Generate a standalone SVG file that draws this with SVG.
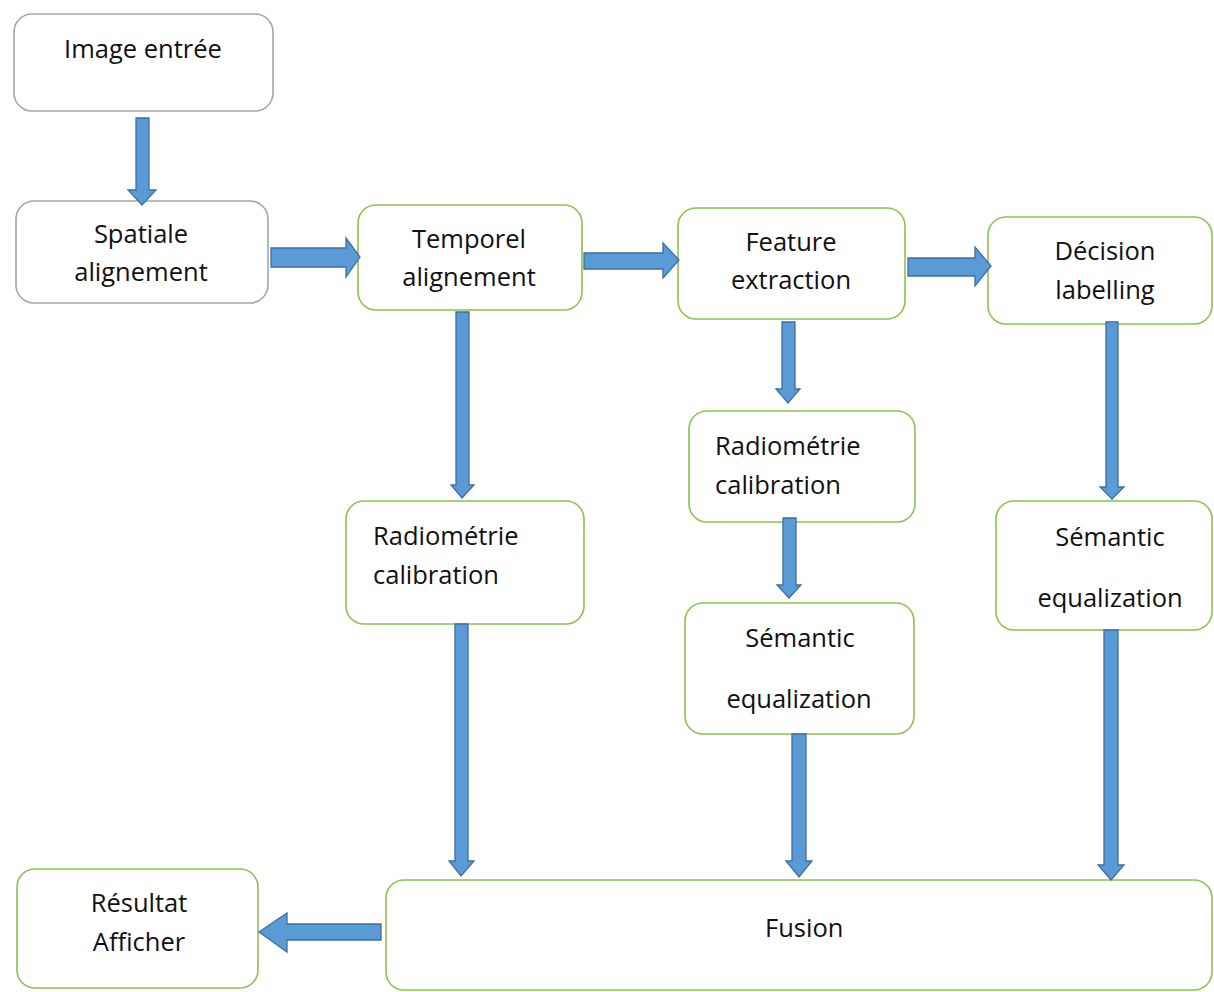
<svg xmlns="http://www.w3.org/2000/svg" width="1214" height="992" viewBox="0 0 1214 992">
  <style>
    .box { fill: #ffffff; stroke-width: 1.6; }
    .gray { stroke: #a6a6a6; }
    .green { stroke: #8cc34f; }
    .lbl { font-family: "Open Sans", "Liberation Sans", sans-serif; font-size: 25.5px; fill: #111111; }
    .c { text-anchor: middle; }
    .arrow { fill: #5b9bd5; stroke: #3d6fa3; stroke-width: 1.3; stroke-linejoin: miter; }
  </style>
  <rect width="1214" height="992" fill="#ffffff"/>

  <g id="n-image-entree">
    <rect class="box gray" x="14" y="14" width="259" height="97" rx="18"/>
    <text class="lbl c" x="143" y="58">Image entrée</text>
  </g>
  <g id="n-spatiale">
    <rect class="box gray" x="16" y="201" width="252" height="102" rx="18"/>
    <text class="lbl c" x="141" y="243">Spatiale</text>
    <text class="lbl c" x="141" y="281">alignement</text>
  </g>
  <g id="n-temporel">
    <rect class="box green" x="358" y="205" width="224" height="105" rx="18"/>
    <text class="lbl c" x="469" y="248">Temporel</text>
    <text class="lbl c" x="469" y="286">alignement</text>
  </g>
  <g id="n-feature">
    <rect class="box green" x="678" y="208" width="227" height="111" rx="18"/>
    <text class="lbl c" x="791" y="251">Feature</text>
    <text class="lbl c" x="791" y="289">extraction</text>
  </g>
  <g id="n-decision">
    <rect class="box green" x="988" y="217" width="224" height="107" rx="18"/>
    <text class="lbl c" x="1105" y="260">Décision</text>
    <text class="lbl c" x="1105" y="299">labelling</text>
  </g>
  <g id="n-radio-1">
    <rect class="box green" x="346" y="501" width="238" height="123" rx="18"/>
    <text class="lbl" x="373" y="545">Radiométrie</text>
    <text class="lbl" x="373" y="584">calibration</text>
  </g>
  <g id="n-radio-2">
    <rect class="box green" x="689" y="411" width="226" height="111" rx="18"/>
    <text class="lbl" x="715" y="455">Radiométrie</text>
    <text class="lbl" x="715" y="494">calibration</text>
  </g>
  <g id="n-semantic-2">
    <rect class="box green" x="685" y="603" width="229" height="131" rx="18"/>
    <text class="lbl c" x="800" y="647">Sémantic</text>
    <text class="lbl c" x="799" y="708">equalization</text>
  </g>
  <g id="n-semantic-3">
    <rect class="box green" x="996" y="501" width="216" height="129" rx="18"/>
    <text class="lbl c" x="1110" y="546">Sémantic</text>
    <text class="lbl c" x="1110" y="607">equalization</text>
  </g>
  <g id="n-fusion">
    <rect class="box green" x="386" y="880" width="826" height="110" rx="18"/>
    <text class="lbl" x="765" y="937">Fusion</text>
  </g>
  <g id="n-resultat">
    <rect class="box green" x="17" y="869" width="241" height="119" rx="18"/>
    <text class="lbl c" x="139" y="912">Résultat</text>
    <text class="lbl c" x="139" y="951">Afficher</text>
  </g>

  <g id="connectors">
    <!-- Image entrée -> Spatiale -->
    <polygon class="arrow" points="136,118 149,118 149,190 156,190 142,205 128,190 136,190"/>
    <!-- Spatiale -> Temporel -->
    <polygon class="arrow" points="271,248 346,248 346,238 360,257 346,277 346,267 271,267"/>
    <!-- Temporel -> Feature -->
    <polygon class="arrow" points="584,253 663,253 663,243 679,260 663,278 663,269 584,269"/>
    <!-- Feature -> Décision -->
    <polygon class="arrow" points="908,258 975,258 975,247 991,266 975,286 975,276 908,276"/>
    <!-- Temporel -> Radiométrie -->
    <polygon class="arrow" points="456,312 469,312 469,485 474,485 462,498 451,485 456,485"/>
    <!-- Radiométrie -> Fusion -->
    <polygon class="arrow" points="455,624 468,624 468,861 474,861 461,876 449,861 455,861"/>
    <!-- Feature -> Radiométrie -->
    <polygon class="arrow" points="782,322 795,322 795,389 800,389 788,403 776,389 782,389"/>
    <!-- Radiométrie -> Sémantic -->
    <polygon class="arrow" points="783,518 796,518 796,585 801,585 789,598 777,585 783,585"/>
    <!-- Sémantic -> Fusion -->
    <polygon class="arrow" points="792,734 806,734 806,861 812,861 799,877 786,861 792,861"/>
    <!-- Décision -> Sémantic -->
    <polygon class="arrow" points="1106,322 1118,322 1118,487 1124,487 1112,499 1100,487 1106,487"/>
    <!-- Sémantic -> Fusion -->
    <polygon class="arrow" points="1104,630 1118,630 1118,865 1124,865 1111,880 1098,865 1104,865"/>
    <!-- Fusion -> Résultat -->
    <polygon class="arrow" points="381,924 287,924 287,913 259,932 287,952 287,940 381,940"/>
  </g>
</svg>
